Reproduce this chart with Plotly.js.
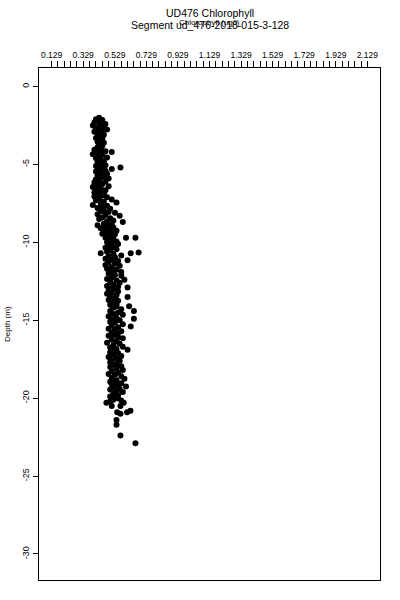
<!DOCTYPE html>
<html><head><meta charset="utf-8">
<script src="https://cdn.plot.ly/plotly-3.0.1.min.js"></script>
<style>body{margin:0;background:#fff}</style>
</head><body><div id="chart" style="width:400px;height:600px"></div>
<script>
// ---- Text ----
const titleLine1 = "UD476 Chlorophyll";
const titleLine2 = "Segment ud_476-2018-015-3-128";
const xTitle = "Chlorophyll (ug/l)";
const yTitle = "Depth (m)";

// ---- Axis ticks ----
const xTickLabels = ["0.129","0.329","0.529","0.729","0.929","1.129","1.329","1.529","1.729","1.929","2.129"];
const xMinorPerMajor = 5;
const yTickValues = [0, -5, -10, -15, -20, -25, -30];
const yTickLabels = ["0", "-5", "-10", "-15", "-20", "-25", "-30"];
const xRange = [0.049, 2.209];
const yRange = [-31.67, 1.19];

// ---- Data (depth in m, chlorophyll in ug/l) ----
const depth = [
-2.0,-2.1,-2.15,-2.2,-2.3,-2.35,-2.4,-2.5,-2.55,-2.6,-2.7,-2.75,-2.8,-2.9,-2.95,
-3.05,-3.1,-3.2,-3.3,-3.35,-3.45,-3.55,-3.6,-3.7,-3.8,-3.9,-3.95,
-4.05,-4.1,-4.15,-4.2,-4.25,-4.35,-4.4,-4.5,-4.55,-4.6,-4.7,-4.8,-4.85,-4.95,
-5.0,-5.05,-5.1,-5.2,-5.2,-5.3,-5.3,-5.4,-5.45,-5.55,-5.6,-5.7,-5.75,-5.85,-5.9,-5.95,
-6.05,-6.1,-6.15,-6.25,-6.3,-6.4,-6.45,-6.5,-6.6,-6.65,-6.75,-6.8,-6.85,-6.95,
-7.0,-7.05,-7.1,-7.2,-7.25,-7.3,-7.4,-7.45,-7.5,-7.6,-7.65,-7.7,-7.8,-7.85,-7.95,
-8.0,-8.05,-8.1,-8.2,-8.25,-8.3,-8.4,-8.45,-8.5,-8.6,-8.65,-8.7,-8.8,-8.85,-8.9,-8.95,
-9.0,-9.05,-9.1,-9.2,-9.25,-9.3,-9.4,-9.45,-9.5,-9.55,-9.6,-9.7,-9.7,-9.7,-9.8,-9.85,-9.95,
-10.0,-10.05,-10.1,-10.2,-10.3,-10.35,-10.45,-10.5,-10.6,-10.7,-10.7,-10.65,-10.75,-10.85,-10.9,-10.95,
-11.05,-11.1,-11.15,-11.2,-11.3,-11.35,-11.45,-11.5,-11.6,-11.7,-11.75,-11.85,-11.9,-11.95,
-12.0,-12.1,-12.15,-12.25,-12.35,-12.4,-12.45,-12.55,-12.6,-12.7,-12.8,-12.85,-12.95,
-12.9,-13.0,-13.1,-13.15,-13.25,-13.3,-13.4,-13.5,-13.5,-13.6,-13.7,-13.75,-13.85,-13.95,
-14.0,-14.1,-14.1,-14.2,-14.3,-14.4,-14.4,-14.5,-14.6,-14.65,-14.75,-14.85,-14.9,-14.95,
-15.0,-15.1,-15.15,-15.25,-15.35,-15.4,-15.45,-15.55,-15.6,-15.7,-15.8,-15.85,-15.95,
-16.0,-16.1,-16.15,-16.25,-16.35,-16.45,-16.5,-16.6,-16.7,-16.75,-16.85,-16.9,-16.95,
-17.05,-17.1,-17.2,-17.3,-17.35,-17.45,-17.55,-17.6,-17.7,-17.8,-17.85,-17.95,
-18.0,-18.1,-18.2,-18.25,-18.35,-18.45,-18.5,-18.6,-18.7,-18.75,-18.85,-18.95,
-19.0,-19.05,-19.1,-19.2,-19.25,-19.3,-19.4,-19.45,-19.55,-19.6,-19.7,-19.8,-19.9,-19.95,
-20.0,-20.1,-20.15,-20.2,-20.3,-20.5,-20.5,-20.3,-20.9,-21.0,-20.9,-20.8,
-21.4,-21.7,-22.4,-22.9
];
const chlorophyll = [
0.43,0.41,0.45,0.42,0.40,0.44,0.47,0.39,0.43,0.46,0.41,0.48,0.44,0.40,0.45,
0.42,0.46,0.43,0.41,0.45,0.44,0.42,0.46,0.43,0.45,0.42,0.44,
0.40,0.44,0.47,0.51,0.42,0.39,0.45,0.43,0.48,0.41,0.44,0.46,0.42,0.45,
0.43,0.47,0.41,0.565,0.45,0.51,0.43,0.47,0.41,0.44,0.48,0.42,0.46,0.44,0.49,0.41,
0.43,0.47,0.40,0.45,0.42,0.49,0.39,0.44,0.41,0.47,0.43,0.40,0.46,0.42,
0.45,0.40,0.48,0.43,0.51,0.41,0.46,0.54,0.44,0.39,0.48,0.45,0.42,0.50,0.46,
0.44,0.49,0.53,0.42,0.47,0.56,0.45,0.50,0.43,0.52,0.48,0.58,0.46,0.51,0.42,0.49,
0.46,0.52,0.44,0.49,0.54,0.47,0.51,0.45,0.53,0.48,0.50,0.60,0.66,0.47,0.52,0.49,0.54,
0.48,0.51,0.55,0.49,0.52,0.47,0.54,0.50,0.48,0.44,0.63,0.68,0.52,0.57,0.49,0.53,
0.47,0.51,0.61,0.55,0.49,0.53,0.47,0.56,0.51,0.48,0.54,0.50,0.57,0.52,
0.49,0.53,0.57,0.51,0.48,0.59,0.54,0.50,0.56,0.52,0.48,0.55,0.51,
0.61,0.53,0.49,0.55,0.51,0.48,0.54,0.61,0.50,0.53,0.49,0.55,0.51,0.54,
0.50,0.62,0.54,0.52,0.57,0.65,0.50,0.55,0.52,0.58,0.49,0.54,0.65,0.51,
0.56,0.50,0.53,0.58,0.51,0.63,0.55,0.49,0.53,0.57,0.51,0.55,0.52,
0.49,0.55,0.58,0.51,0.54,0.48,0.56,0.52,0.58,0.50,0.54,0.61,0.52,
0.50,0.55,0.52,0.57,0.49,0.54,0.51,0.56,0.50,0.54,0.52,0.57,
0.50,0.54,0.58,0.51,0.55,0.49,0.53,0.57,0.51,0.59,0.54,0.50,
0.53,0.57,0.51,0.55,0.60,0.52,0.56,0.50,0.54,0.58,0.52,0.55,0.50,0.53,
0.55,0.52,0.57,0.50,0.476,0.51,0.565,0.586,0.544,0.565,0.607,0.628,
0.54,0.54,0.565,0.66
];

// ---- Build axis tick arrays from the tick labels ----
const xMajor = xTickLabels.map(Number);
const xStep = (xMajor[1] - xMajor[0]) / xMinorPerMajor;
const xTickVals = [], xTickText = [];
for (let i = 0; i < xMajor.length - 1; i++) {
  for (let k = 0; k < xMinorPerMajor; k++) {
    xTickVals.push(xMajor[i] + k * xStep);
    xTickText.push(k === 0 ? xTickLabels[i] : "");
  }
}
xTickVals.push(xMajor[xMajor.length - 1]);
xTickText.push(xTickLabels[xTickLabels.length - 1]);

const font = "Liberation Sans, Arial, Helvetica, sans-serif";

const trace = {
  x: chlorophyll, y: depth, type: "scatter", mode: "markers",
  marker: {color: "#000", size: 6, symbol: "circle", line: {width: 0}},
  hoverinfo: "skip"
};

const plotH = 600 - 68 - 20;
function py(pix) { return (600 - 20 - pix) / plotH; }

const layout = {
  width: 400, height: 600,
  margin: {l: 39, r: 20, t: 68, b: 20},
  paper_bgcolor: "#fff", plot_bgcolor: "#fff",
  showlegend: false,
  font: {family: font, color: "#000", size: 8},
  xaxis: {
    side: "top", range: xRange, tickmode: "array",
    tickvals: xTickVals, ticktext: xTickText,
    ticks: "outside", ticklen: 6, tickwidth: 1, tickcolor: "#000",
    tickfont: {family: font, size: 8.5, color: "#000"},
    showgrid: false, zeroline: false,
    showline: true, mirror: true, linecolor: "#000", linewidth: 1
  },
  yaxis: {
    range: yRange, tickmode: "array",
    tickvals: yTickValues, ticktext: yTickLabels,
    tickangle: -90,
    ticks: "outside", ticklen: 5, tickwidth: 1, tickcolor: "#000",
    tickfont: {family: font, size: 9, color: "#000"},
    showgrid: false, zeroline: false,
    showline: true, mirror: true, linecolor: "#000", linewidth: 1
  },
  annotations: [
    {text: titleLine1, xref: "paper", yref: "paper", x: 0.5, y: py(13), xanchor: "center", yanchor: "middle", showarrow: false, font: {family: font, size: 10.5, color: "#000"}},
    {text: titleLine2, xref: "paper", yref: "paper", x: 0.5, y: py(25), xanchor: "center", yanchor: "middle", showarrow: false, font: {family: font, size: 10.5, color: "#000"}},
    {text: xTitle, xref: "paper", yref: "paper", x: 0.5, y: py(22), xanchor: "center", yanchor: "middle", showarrow: false, font: {family: font, size: 8, color: "#000"}},
    {text: yTitle, xref: "paper", yref: "paper", x: (7 - 39) / 341, y: 0.5, xanchor: "center", yanchor: "middle", textangle: -90, showarrow: false, font: {family: font, size: 8, color: "#000"}}
  ]
};

Plotly.newPlot("chart", [trace], layout, {staticPlot: true, displayModeBar: false});
</script>
</body></html>
